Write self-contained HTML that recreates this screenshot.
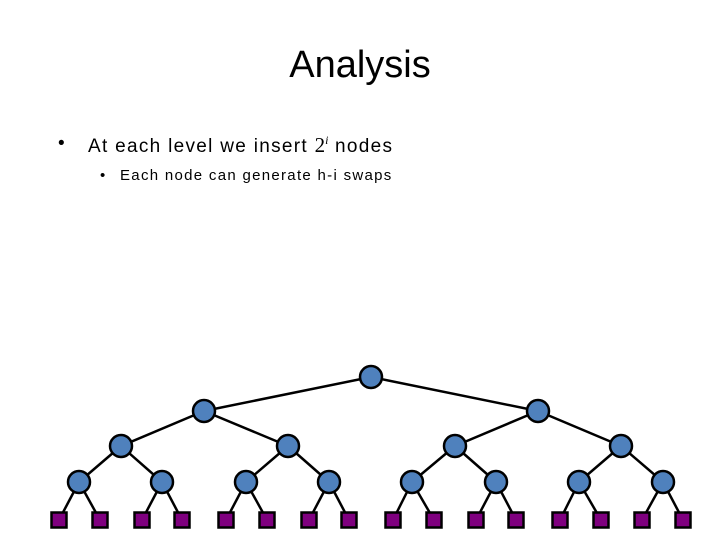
<!DOCTYPE html>
<html><head><style>
body{margin:0;background:#fff;}
.t{position:absolute;font-family:"Liberation Sans",sans-serif;color:#000;white-space:nowrap;}
</style></head><body>
<div style="position:relative;width:720px;height:540px;overflow:hidden">
<div class="t" style="left:0;width:720px;text-align:center;top:44px;font-size:38px">Analysis</div>
<div class="t" style="left:58px;top:133px;font-size:19px">•</div>
<div class="t" style="left:88px;top:133px;font-size:19px;letter-spacing:1.3px">At each level we insert <span style="font-family:'Liberation Serif',serif;font-size:21px;letter-spacing:0">2<sup style="font-size:12px;font-style:italic">i</sup></span> nodes</div>
<div class="t" style="left:100px;top:167px;font-size:15px">•</div>
<div class="t" style="left:120px;top:167px;font-size:15px;letter-spacing:1.3px">Each node can generate h-i swaps</div>
<svg width="720" height="540" style="position:absolute;left:0;top:0">
<g stroke="#000" stroke-width="2.5" id="g"></g>
</svg>
</div>
<script>
var g=document.getElementById('g'),s='';
var L=[[371],[204,538],[121,288,455,621],[79,162,246,329,412,496,579,663],[59,100,142,182,226,267,309,349,393,434,476,516,560,601,642,683]];
var Y=[377,411,446,482,520];
for(var l=0;l<4;l++)for(var i=0;i<L[l].length;i++)for(var k=0;k<2;k++)s+='<line x1="'+L[l][i]+'" y1="'+Y[l]+'" x2="'+L[l+1][2*i+k]+'" y2="'+Y[l+1]+'"/>';
for(l=0;l<4;l++)for(i=0;i<L[l].length;i++)s+='<circle cx="'+L[l][i]+'" cy="'+Y[l]+'" r="11" fill="#4f81bd"/>';
for(i=0;i<16;i++)s+='<rect x="'+(L[4][i]-7.5)+'" y="512.5" width="15" height="15" fill="#7f007f"/>';
g.innerHTML=s;
</script>
</body></html>
